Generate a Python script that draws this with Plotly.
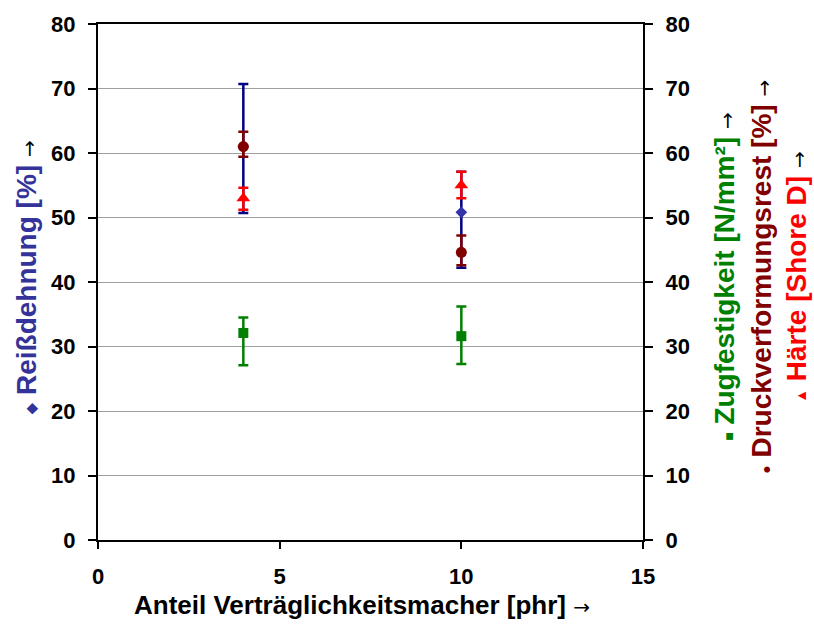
import plotly.graph_objects as go

x_phr = [4, 10]

# Reißdehnung [%]
reiss = [61.0, 50.8]
reiss_plus = [9.7, 6.3]
reiss_minus = [10.3, 8.6]

# Zugfestigkeit [N/mm²]
zug = [32.1, 31.6]
zug_plus = [2.4, 4.6]
zug_minus = [5.0, 4.3]

# Druckverformungsrest [%]
dvr = [61.0, 44.6]
dvr_plus = [2.3, 2.6]
dvr_minus = [1.6, 2.0]

# Härte [Shore D]
haerte = [53.0, 55.0]
haerte_plus = [1.6, 2.1]
haerte_minus = [1.8, 2.0]

FONT = "Liberation Sans, Arial, sans-serif"

def series(y, p, m, color, ecolor, symbol, size, yaxis):
    return go.Scatter(
        x=x_phr, y=y, mode="markers", yaxis=yaxis, showlegend=False,
        marker=dict(color=color, symbol=symbol, size=size),
        error_y=dict(type="data", symmetric=False, array=p, arrayminus=m,
                     color=ecolor, thickness=2.5, width=5),
    )

fig = go.Figure()
fig.add_trace(series(reiss, reiss_plus, reiss_minus, "#3333AA", "#000080", "diamond", 9, "y"))
fig.add_trace(series(zug, zug_plus, zug_minus, "#008000", "#008000", "square", 10, "y2"))
fig.add_trace(series(dvr, dvr_plus, dvr_minus, "#800000", "#800000", "circle", 11, "y2"))
fig.add_trace(series(haerte, haerte_plus, haerte_minus, "#FF0000", "#FF0000", "triangle-up", 12, "y2"))

tickfont = dict(family=FONT, size=22, color="black", weight="bold")

fig.update_layout(
    width=814, height=626,
    margin=dict(l=98, r=171, t=24, b=86),
    paper_bgcolor="white", plot_bgcolor="white",
    xaxis=dict(range=[0, 15], dtick=5, showgrid=False, zeroline=False,
               showline=True, linecolor="black", linewidth=2, mirror=True,
               ticks="outside", ticklen=7, tickwidth=2, tickcolor="black",
               tickfont=tickfont, ticklabelstandoff=9),
    yaxis=dict(range=[0, 80], dtick=10, showgrid=True, gridcolor="#A0A0A0", gridwidth=1,
               zeroline=False, showline=True, linecolor="black", linewidth=2,
               ticks="outside", ticklen=8, tickwidth=2, tickcolor="black",
               tickfont=tickfont, ticklabelstandoff=8),
    yaxis2=dict(range=[0, 80], dtick=10, overlaying="y", side="right", showgrid=False,
                zeroline=False, showline=True, linecolor="black", linewidth=2,
                ticks="outside", ticklen=8, tickwidth=2, tickcolor="black",
                tickfont=tickfont, ticklabelstandoff=8),
)

def title_ann(text, x, y, color, size, angle=-90):
    fig.add_annotation(text=text, xref="paper", yref="paper", x=x, y=y,
                       xanchor="center", yanchor="middle", showarrow=False,
                       textangle=angle,
                       font=dict(family=FONT, size=size, color=color, weight="bold"))

sym = lambda s: f"<span style='font-size:14px'>{s}</span>"
arr = "<span style='font-family:DejaVu Sans;font-size:20px;font-weight:normal;color:black'>→</span>"

title_ann(f"{sym('◆')} Reißdehnung [%] {arr}", -0.1303, 0.51, "#333399", 28)
title_ann(f"{sym('■')} Zugfestigkeit [N/mm²] {arr}", 1.1505, 0.51, "#008000", 28)
title_ann(f"{sym('●')} Druckverformungsrest [%] {arr}", 1.2183, 0.51, "#800000", 28)
title_ann(f"{sym('▲')} Härte [Shore D] {arr}", 1.2826, 0.51, "#FF0000", 28)
title_ann(f"Anteil Verträglichkeitsmacher [phr] {arr}", 0.484, -0.126, "black", 26, angle=0)

fig.write_html("out.html")
